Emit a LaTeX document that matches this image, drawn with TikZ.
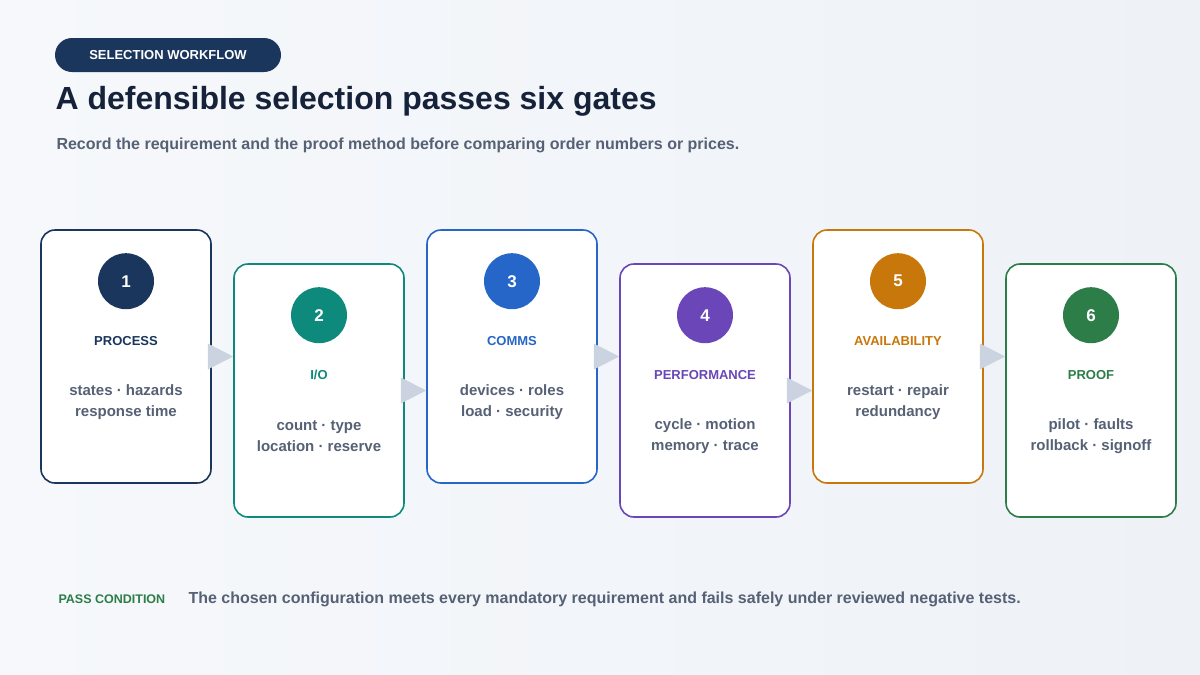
\documentclass[tikz,border=0pt]{standalone}
\usepackage{fontspec}
\setmainfont{Liberation Sans}
\usetikzlibrary{positioning,calc}
\definecolor{navy}{HTML}{1B365D}
\definecolor{ink}{HTML}{16213A}
\definecolor{slate}{HTML}{566175}
\definecolor{arrowgray}{HTML}{CBD3E0}
\definecolor{bgleft}{HTML}{F6F8FB}
\definecolor{bgright}{HTML}{EEF2F7}
\definecolor{gA}{HTML}{1B365D}
\definecolor{gB}{HTML}{0E8A7D}
\definecolor{gC}{HTML}{2666C8}
\definecolor{gD}{HTML}{6A46B8}
\definecolor{gE}{HTML}{C8780A}
\definecolor{gF}{HTML}{2C7D47}
\tikzset{
  card/.style={draw=#1, line width=1.6pt, fill=white, rounded corners=14pt,
    minimum width=170pt, minimum height=253pt, inner sep=0pt},
  badge/.style={circle, fill=#1, minimum size=56pt, inner sep=0pt,
    text=white, font=\fontsize{17}{17}\selectfont\bfseries},
  gatename/.style={text=#1, font=\fontsize{13}{13}\selectfont\bfseries},
  gatetext/.style={text=slate, align=center, font=\fontsize{15}{21}\selectfont\bfseries},
  arr/.style={fill=arrowgray}
}
\begin{document}
\begin{tikzpicture}[x=1pt, y=-1pt]
   \shade[left color=bgleft, right color=bgright] (0,0) rectangle (1200,675);
   \useasboundingbox (0,0) rectangle (1200,675);
   % header
   \node[fill=navy, rounded corners=17pt, minimum width=226pt, minimum height=34pt,
     text=white, font=\fontsize{13}{13}\selectfont\bfseries] (tag) at (168,55) {SELECTION WORKFLOW};
   \node[anchor=west, text=ink, font=\fontsize{32}{32}\selectfont\bfseries] (title) at (52,101)
     {A defensible selection passes six gates};
   \node[anchor=west, text=slate, font=\fontsize{16}{16}\selectfont\bfseries] (sub) at (53,145)
     {Record the requirement and the proof method before comparing order numbers or prices.};
   % gates
   \foreach \i/\x/\y/\c/\name/\txt in {
     1/126/356.5/gA/PROCESS/{states · hazards\\response time},
     2/319/390.5/gB/I\slash O/{count · type\\location · reserve},
     3/512/356.5/gC/COMMS/{devices · roles\\load · security},
     4/705/390.5/gD/PERFORMANCE/{cycle · motion\\memory · trace},
     5/898/356.5/gE/AVAILABILITY/{restart · repair\\redundancy},
     6/1091/390.5/gF/PROOF/{pilot · faults\\rollback · signoff}} {
     \node[card=\c] (c\i) at (\x,\y) {};
     \node[badge=\c] (b\i) at ($(c\i.north)+(0,52)$) {\i};
     \node[gatename=\c] (n\i) at ($(c\i.north)+(0,112)$) {\name};
     \node[gatetext] (t\i) at ($(c\i.north)+(0,173)$) {\txt};
   }
   % connectors
   \foreach \a/\b in {1/2,2/3,3/4,4/5,5/6} {
     \fill[arr] ($(c\a.east)+(-4,-13)$) -- (c\a.east -| c\b.west) -- ($(c\a.east)+(-4,13)$) -- cycle;
   }
   % footer
   \node[anchor=west, text=gF, font=\fontsize{12.5}{13}\selectfont\bfseries] (pass) at (55,599) {PASS CONDITION};
   \node[anchor=west, text=slate, font=\fontsize{16}{16}\selectfont\bfseries] (cond) at (185,599)
     {The chosen configuration meets every mandatory requirement and fails safely under reviewed negative tests.};
\end{tikzpicture}
\end{document}
